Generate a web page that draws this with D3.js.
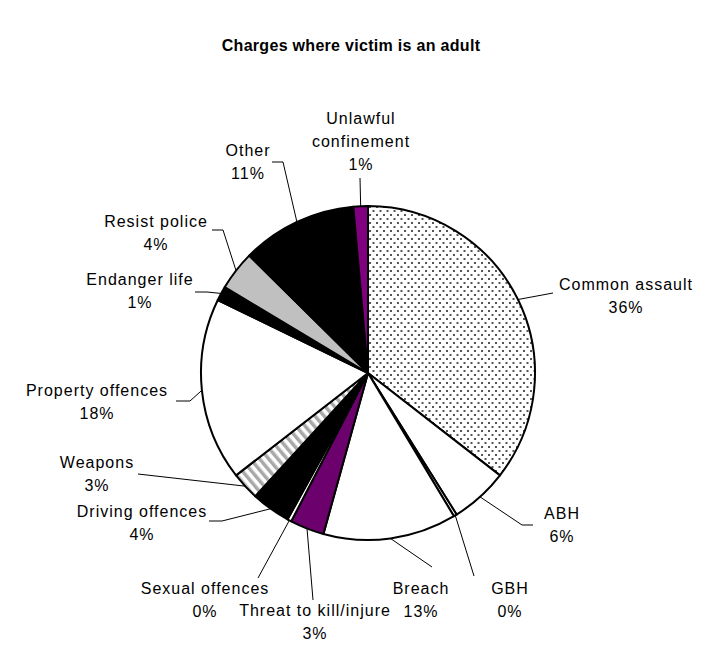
<!DOCTYPE html>
<html>
<head>
<meta charset="utf-8">
<script src="https://cdn.jsdelivr.net/npm/d3@7"></script>
<style>
  html, body { margin: 0; padding: 0; background: #fff; }
  svg { display: block; }
  text { font-family: "Liberation Sans", Arial, sans-serif; fill: #000; }
</style>
</head>
<body>
<svg id="chart" width="702" height="646"></svg>
<script>
// Charges laid where the victim is an adult, share of all charges (%)
const categories = [
  "Common assault", "ABH", "GBH", "Breach", "Threat to kill/injure",
  "Sexual offences", "Driving offences", "Weapons", "Property offences",
  "Endanger life", "Resist police", "Other", "Unlawful confinement"
];
const shares = [35.5, 5.6, 0.3, 12.9, 3.3, 0.4, 3.8, 2.7, 17.7, 1.4, 3.8, 11.2, 1.4];
// Label text broken into lines (percentage line is appended)
const labelLines = [
  ["Common assault"], ["ABH"], ["GBH"], ["Breach"], ["Threat to kill/injure"],
  ["Sexual offences"], ["Driving offences"], ["Weapons"], ["Property offences"],
  ["Endanger life"], ["Resist police"], ["Other"], ["Unlawful", "confinement"]
];
// Slice fills: solid colours, or pattern ids defined below
const fills = [
  "url(#dots)", "#ffffff", "#ffffff", "#ffffff", "#6c006c",
  "#ffffff", "#000000", "url(#stripes)", "#ffffff",
  "#000000", "#c0c0c0", "#000000", "#800080"
];

// Label placement: block centre x, first-line centre y, leader elbow and end
const labelLayout = [
  { x: 626, y: 284, end: [553, 293] },
  { x: 562, y: 513, elbow: [522, 525], end: [533, 525] },
  { x: 510, y: 588, end: [474, 576] },
  { x: 421, y: 588, end: [432, 567] },
  { x: 315, y: 610, end: [313, 600] },
  { x: 205, y: 588, end: [258, 578] },
  { x: 142, y: 511, elbow: [222, 521], end: [209, 521] },
  { x: 97,  y: 462, end: [138, 474] },
  { x: 97,  y: 390, elbow: [190, 401], end: [176, 401] },
  { x: 140, y: 279, elbow: [207, 292], end: [195, 292] },
  { x: 156, y: 221, elbow: [223, 230], end: [212, 230] },
  { x: 248, y: 150, elbow: [283, 162], end: [272, 162] },
  { x: 361, y: 118, end: [360, 178] }
];

const svg = d3.select("#chart");
const cx = 368, cy = 373, radius = 167;
const lineHeight = 23;

// Patterns
const defs = svg.append("defs");
const dots = defs.append("pattern")
  .attr("id", "dots").attr("patternUnits", "userSpaceOnUse")
  .attr("width", 7).attr("height", 8);
dots.append("rect").attr("width", 7).attr("height", 8).attr("fill", "#fff");
dots.append("rect").attr("x", 1).attr("y", 1).attr("width", 2).attr("height", 2).attr("fill", "#555");
dots.append("rect").attr("x", 4.5).attr("y", 5).attr("width", 2).attr("height", 2).attr("fill", "#555");

const stripes = defs.append("pattern")
  .attr("id", "stripes").attr("patternUnits", "userSpaceOnUse")
  .attr("width", 7).attr("height", 7)
  .attr("patternTransform", "rotate(-40)");
stripes.append("rect").attr("width", 7).attr("height", 7).attr("fill", "#fff");
stripes.append("rect").attr("x", 0).attr("width", 3.5).attr("height", 7).attr("fill", "#a8a8a8");

// Title
svg.append("text")
  .attr("x", 351).attr("y", 51)
  .attr("text-anchor", "middle")
  .style("font-size", "16px").style("font-weight", "bold")
  .style("letter-spacing", "0.3px")
  .text("Charges where victim is an adult");

const data = categories.map((c, i) => ({ name: c, value: shares[i], i }));
const total = d3.sum(shares);

const pie = d3.pie().value(d => d.value).sort(null);
const arcs = pie(data);
const arc = d3.arc().innerRadius(0).outerRadius(radius);
const edge = d3.arc().innerRadius(radius).outerRadius(radius);

const g = svg.append("g").attr("transform", `translate(${cx},${cy})`);
g.selectAll("path.slice")
  .data(arcs)
  .join("path")
  .attr("class", "slice")
  .attr("d", arc)
  .attr("fill", d => fills[d.data.i])
  .attr("stroke", "#000")
  .attr("stroke-width", 2)
  .attr("stroke-linejoin", "round");

// Leader lines from the slice edge to each label
const line = d3.line();
svg.append("g").selectAll("path.leader")
  .data(arcs)
  .join("path")
  .attr("class", "leader")
  .attr("fill", "none")
  .attr("stroke", "#000")
  .attr("stroke-width", 1)
  .attr("d", d => {
    const L = labelLayout[d.data.i];
    const [ex, ey] = edge.centroid(d);
    const pts = [[cx + ex, cy + ey]];
    if (L.elbow) pts.push(L.elbow);
    pts.push(L.end);
    return line(pts);
  });

// Labels: category name plus rounded percentage
const labels = svg.append("g").selectAll("text.label")
  .data(arcs)
  .join("text")
  .attr("class", "label")
  .attr("text-anchor", "middle")
  .style("font-size", "16px")
  .style("letter-spacing", "1px");

labels.each(function(d) {
  const L = labelLayout[d.data.i];
  const lines = labelLines[d.data.i].concat([Math.round(d.data.value / total * 100) + "%"]);
  d3.select(this).selectAll("tspan")
    .data(lines)
    .join("tspan")
    .attr("x", L.x)
    .attr("y", (t, k) => L.y + k * lineHeight)
    .attr("dy", "0.35em")
    .text(t => t);
});
</script>
</body>
</html>
